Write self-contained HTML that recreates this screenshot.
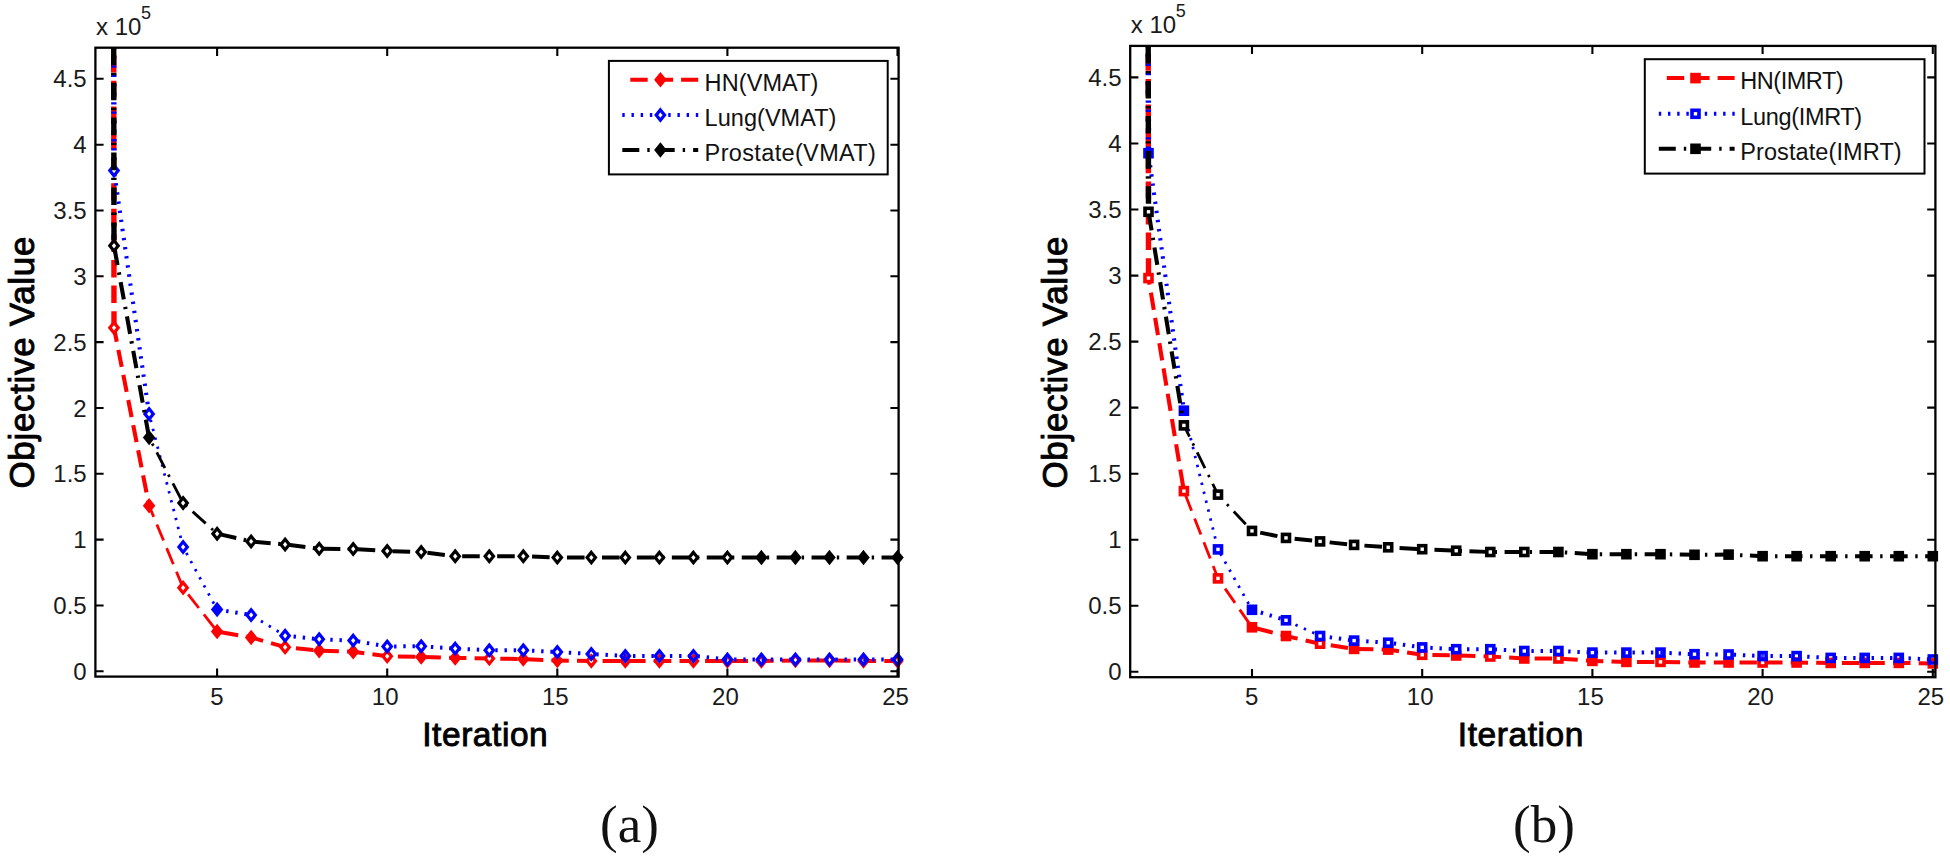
<!DOCTYPE html>
<html lang="en"><head><meta charset="utf-8"><title>Objective value vs iteration</title>
<style>html,body{margin:0;padding:0;background:#fff}body{width:1950px;height:859px;overflow:hidden}svg{display:block}</style>
</head><body>
<svg width="1950" height="859" viewBox="0 0 1950 859">
<rect width="1950" height="859" fill="#fff"/>
<g id="pa">
<clipPath id="clippa"><rect x="95.4" y="47.7" width="803.2" height="628.9"/></clipPath>
<g clip-path="url(#clippa)" fill="none">
<path d="M113.7 47.7L114.0 327.7" stroke="#ff0000" stroke-width="5.4" stroke-dasharray="17.4 8.2" stroke-dashoffset="18.1"/>
<path d="M114.0 327.7L149.1 505.7" stroke="#ff0000" stroke-width="4.1" stroke-dasharray="17.4 8.2" stroke-dashoffset="3.1"/>
<path d="M149.1 505.7L183.1 587.8" stroke="#ff0000" stroke-width="2.8" stroke-dasharray="17.4 8.2" stroke-dashoffset="5.3"/>
<path d="M183.1 587.8L217.1 631.5" stroke="#ff0000" stroke-width="2.8" stroke-dasharray="17.4 8.2" stroke-dashoffset="17.4"/>
<path d="M217.1 631.5L251.1 637.4" stroke="#ff0000" stroke-width="4.0" stroke-dasharray="17.4 8.2" stroke-dashoffset="21.6"/>
<path d="M251.1 637.4L285.1 647.2" stroke="#ff0000" stroke-width="4.0" stroke-dasharray="17.4 8.2" stroke-dashoffset="4.9"/>
<path d="M285.1 647.2L319.2 650.7" stroke="#ff0000" stroke-width="4.0" stroke-dasharray="17.4 8.2" stroke-dashoffset="14.7"/>
<path d="M319.2 650.7L353.2 651.7" stroke="#ff0000" stroke-width="4.0" stroke-dasharray="17.4 8.2" stroke-dashoffset="23.3"/>
<path d="M353.2 651.7L387.2 656.3" stroke="#ff0000" stroke-width="4.0" stroke-dasharray="17.4 8.2" stroke-dashoffset="6.2"/>
<path d="M387.2 656.3L421.2 656.9" stroke="#ff0000" stroke-width="4.0" stroke-dasharray="17.4 8.2" stroke-dashoffset="14.9"/>
<path d="M421.2 656.9L455.2 657.9" stroke="#ff0000" stroke-width="4.0" stroke-dasharray="17.4 8.2" stroke-dashoffset="23.3"/>
<path d="M455.2 657.9L489.3 658.5" stroke="#ff0000" stroke-width="4.0" stroke-dasharray="17.4 8.2" stroke-dashoffset="6.2"/>
<path d="M489.3 658.5L523.3 659.1" stroke="#ff0000" stroke-width="4.0" stroke-dasharray="17.4 8.2" stroke-dashoffset="14.6"/>
<path d="M523.3 659.1L557.3 660.5" stroke="#ff0000" stroke-width="4.0" stroke-dasharray="17.4 8.2" stroke-dashoffset="23.0"/>
<path d="M557.3 660.5L591.3 660.9" stroke="#ff0000" stroke-width="4.0" stroke-dasharray="17.4 8.2" stroke-dashoffset="5.9"/>
<path d="M591.3 660.9L625.3 660.9" stroke="#ff0000" stroke-width="4.0" stroke-dasharray="17.4 8.2" stroke-dashoffset="14.3"/>
<path d="M625.3 660.9L659.4 660.9" stroke="#ff0000" stroke-width="4.0" stroke-dasharray="17.4 8.2" stroke-dashoffset="22.7"/>
<path d="M659.4 660.9L693.4 660.9" stroke="#ff0000" stroke-width="4.0" stroke-dasharray="17.4 8.2" stroke-dashoffset="5.5"/>
<path d="M693.4 660.9L727.4 660.9" stroke="#ff0000" stroke-width="4.0" stroke-dasharray="17.4 8.2" stroke-dashoffset="13.9"/>
<path d="M727.4 660.9L761.4 660.9" stroke="#ff0000" stroke-width="4.0" stroke-dasharray="17.4 8.2" stroke-dashoffset="22.4"/>
<path d="M761.4 660.9L795.4 660.5" stroke="#ff0000" stroke-width="4.0" stroke-dasharray="17.4 8.2" stroke-dashoffset="5.2"/>
<path d="M795.4 660.5L829.5 660.5" stroke="#ff0000" stroke-width="4.0" stroke-dasharray="17.4 8.2" stroke-dashoffset="13.6"/>
<path d="M829.5 660.5L863.5 660.9" stroke="#ff0000" stroke-width="4.0" stroke-dasharray="17.4 8.2" stroke-dashoffset="22.0"/>
<path d="M863.5 660.9L897.5 660.9" stroke="#ff0000" stroke-width="4.0" stroke-dasharray="17.4 8.2" stroke-dashoffset="4.8"/>
</g>
<path d="M114.0 322.5L118.2 327.7L114.0 332.9L109.8 327.7Z" fill="#fff" stroke="#ff0000" stroke-width="3.2" stroke-linejoin="miter"/>
<path d="M149.1 500.5L153.3 505.7L149.1 510.9L144.9 505.7Z" fill="#ff0000" stroke="#ff0000" stroke-width="3.2" stroke-linejoin="miter"/>
<path d="M183.1 582.6L187.3 587.8L183.1 593.0L178.9 587.8Z" fill="#fff" stroke="#ff0000" stroke-width="3.2" stroke-linejoin="miter"/>
<path d="M217.1 626.3L221.3 631.5L217.1 636.7L212.9 631.5Z" fill="#ff0000" stroke="#ff0000" stroke-width="3.2" stroke-linejoin="miter"/>
<path d="M251.1 632.2L255.3 637.4L251.1 642.6L246.9 637.4Z" fill="#ff0000" stroke="#ff0000" stroke-width="3.2" stroke-linejoin="miter"/>
<path d="M285.1 642.0L289.3 647.2L285.1 652.4L280.9 647.2Z" fill="#fff" stroke="#ff0000" stroke-width="3.2" stroke-linejoin="miter"/>
<path d="M319.2 645.5L323.4 650.7L319.2 655.9L315.0 650.7Z" fill="#ff0000" stroke="#ff0000" stroke-width="3.2" stroke-linejoin="miter"/>
<path d="M353.2 646.5L357.4 651.7L353.2 656.9L349.0 651.7Z" fill="#ff0000" stroke="#ff0000" stroke-width="3.2" stroke-linejoin="miter"/>
<path d="M387.2 651.1L391.4 656.3L387.2 661.5L383.0 656.3Z" fill="#fff" stroke="#ff0000" stroke-width="3.2" stroke-linejoin="miter"/>
<path d="M421.2 651.7L425.4 656.9L421.2 662.1L417.0 656.9Z" fill="#ff0000" stroke="#ff0000" stroke-width="3.2" stroke-linejoin="miter"/>
<path d="M455.2 652.7L459.4 657.9L455.2 663.1L451.0 657.9Z" fill="#ff0000" stroke="#ff0000" stroke-width="3.2" stroke-linejoin="miter"/>
<path d="M489.3 653.3L493.5 658.5L489.3 663.7L485.1 658.5Z" fill="#fff" stroke="#ff0000" stroke-width="3.2" stroke-linejoin="miter"/>
<path d="M523.3 653.9L527.5 659.1L523.3 664.3L519.1 659.1Z" fill="#ff0000" stroke="#ff0000" stroke-width="3.2" stroke-linejoin="miter"/>
<path d="M557.3 655.3L561.5 660.5L557.3 665.7L553.1 660.5Z" fill="#ff0000" stroke="#ff0000" stroke-width="3.2" stroke-linejoin="miter"/>
<path d="M591.3 655.7L595.5 660.9L591.3 666.1L587.1 660.9Z" fill="#fff" stroke="#ff0000" stroke-width="3.2" stroke-linejoin="miter"/>
<path d="M625.3 655.7L629.5 660.9L625.3 666.1L621.1 660.9Z" fill="#fff" stroke="#ff0000" stroke-width="3.2" stroke-linejoin="miter"/>
<path d="M659.4 655.7L663.6 660.9L659.4 666.1L655.2 660.9Z" fill="#fff" stroke="#ff0000" stroke-width="3.2" stroke-linejoin="miter"/>
<path d="M693.4 655.7L697.6 660.9L693.4 666.1L689.2 660.9Z" fill="#fff" stroke="#ff0000" stroke-width="3.2" stroke-linejoin="miter"/>
<path d="M727.4 655.7L731.6 660.9L727.4 666.1L723.2 660.9Z" fill="#fff" stroke="#ff0000" stroke-width="3.2" stroke-linejoin="miter"/>
<path d="M761.4 655.7L765.6 660.9L761.4 666.1L757.2 660.9Z" fill="#fff" stroke="#ff0000" stroke-width="3.2" stroke-linejoin="miter"/>
<path d="M795.4 655.3L799.6 660.5L795.4 665.7L791.2 660.5Z" fill="#fff" stroke="#ff0000" stroke-width="3.2" stroke-linejoin="miter"/>
<path d="M829.5 655.3L833.7 660.5L829.5 665.7L825.3 660.5Z" fill="#fff" stroke="#ff0000" stroke-width="3.2" stroke-linejoin="miter"/>
<path d="M863.5 655.7L867.7 660.9L863.5 666.1L859.3 660.9Z" fill="#fff" stroke="#ff0000" stroke-width="3.2" stroke-linejoin="miter"/>
<path d="M897.5 655.7L901.7 660.9L897.5 666.1L893.3 660.9Z" fill="#fff" stroke="#ff0000" stroke-width="3.2" stroke-linejoin="miter"/>
<g clip-path="url(#clippa)" fill="none">
<path d="M113.7 47.7L114.0 170.6" stroke="#0000ff" stroke-width="5.4" stroke-dasharray="2.4 6.8" stroke-dashoffset="0.7"/>
<path d="M114.0 170.6L149.1 413.9" stroke="#0000ff" stroke-width="4.1" stroke-dasharray="2.4 6.8" stroke-dashoffset="5.6"/>
<path d="M149.1 413.9L183.1 547.0" stroke="#0000ff" stroke-width="2.8" stroke-dasharray="2.4 6.8" stroke-dashoffset="3.1"/>
<path d="M183.1 547.0L217.1 609.5" stroke="#0000ff" stroke-width="2.8" stroke-dasharray="2.4 6.8" stroke-dashoffset="2.4"/>
<path d="M217.1 609.5L251.1 615.0" stroke="#0000ff" stroke-width="4.0" stroke-dasharray="2.4 6.8" stroke-dashoffset="0.0"/>
<path d="M251.1 615.0L285.1 635.7" stroke="#0000ff" stroke-width="2.8" stroke-dasharray="2.4 6.8" stroke-dashoffset="6.9"/>
<path d="M285.1 635.7L319.2 639.2" stroke="#0000ff" stroke-width="4.0" stroke-dasharray="2.4 6.8" stroke-dashoffset="0.7"/>
<path d="M319.2 639.2L353.2 640.6" stroke="#0000ff" stroke-width="4.0" stroke-dasharray="2.4 6.8" stroke-dashoffset="7.3"/>
<path d="M353.2 640.6L387.2 646.5" stroke="#0000ff" stroke-width="4.0" stroke-dasharray="2.4 6.8" stroke-dashoffset="4.5"/>
<path d="M387.2 646.5L421.2 646.2" stroke="#0000ff" stroke-width="4.0" stroke-dasharray="2.4 6.8" stroke-dashoffset="2.3"/>
<path d="M421.2 646.2L455.2 648.6" stroke="#0000ff" stroke-width="4.0" stroke-dasharray="2.4 6.8" stroke-dashoffset="8.7"/>
<path d="M455.2 648.6L489.3 650.2" stroke="#0000ff" stroke-width="4.0" stroke-dasharray="2.4 6.8" stroke-dashoffset="6.0"/>
<path d="M489.3 650.2L523.3 650.2" stroke="#0000ff" stroke-width="4.0" stroke-dasharray="2.4 6.8" stroke-dashoffset="3.2"/>
<path d="M523.3 650.2L557.3 652.0" stroke="#0000ff" stroke-width="4.0" stroke-dasharray="2.4 6.8" stroke-dashoffset="0.5"/>
<path d="M557.3 652.0L591.3 654.0" stroke="#0000ff" stroke-width="4.0" stroke-dasharray="2.4 6.8" stroke-dashoffset="6.9"/>
<path d="M591.3 654.0L625.3 655.9" stroke="#0000ff" stroke-width="4.0" stroke-dasharray="2.4 6.8" stroke-dashoffset="4.2"/>
<path d="M625.3 655.9L659.4 655.9" stroke="#0000ff" stroke-width="4.0" stroke-dasharray="2.4 6.8" stroke-dashoffset="1.5"/>
<path d="M659.4 655.9L693.4 655.9" stroke="#0000ff" stroke-width="4.0" stroke-dasharray="2.4 6.8" stroke-dashoffset="7.9"/>
<path d="M693.4 655.9L727.4 659.5" stroke="#0000ff" stroke-width="4.0" stroke-dasharray="2.4 6.8" stroke-dashoffset="5.1"/>
<path d="M727.4 659.5L761.4 659.5" stroke="#0000ff" stroke-width="4.0" stroke-dasharray="2.4 6.8" stroke-dashoffset="2.5"/>
<path d="M761.4 659.5L795.4 659.5" stroke="#0000ff" stroke-width="4.0" stroke-dasharray="2.4 6.8" stroke-dashoffset="9.0"/>
<path d="M795.4 659.5L829.5 659.5" stroke="#0000ff" stroke-width="4.0" stroke-dasharray="2.4 6.8" stroke-dashoffset="6.2"/>
<path d="M829.5 659.5L863.5 659.5" stroke="#0000ff" stroke-width="4.0" stroke-dasharray="2.4 6.8" stroke-dashoffset="3.4"/>
<path d="M863.5 659.5L897.5 659.5" stroke="#0000ff" stroke-width="4.0" stroke-dasharray="2.4 6.8" stroke-dashoffset="0.6"/>
</g>
<path d="M114.0 165.4L118.2 170.6L114.0 175.8L109.8 170.6Z" fill="#fff" stroke="#0000ff" stroke-width="3.2" stroke-linejoin="miter"/>
<path d="M149.1 408.7L153.3 413.9L149.1 419.1L144.9 413.9Z" fill="#fff" stroke="#0000ff" stroke-width="3.2" stroke-linejoin="miter"/>
<path d="M183.1 541.8L187.3 547.0L183.1 552.2L178.9 547.0Z" fill="#fff" stroke="#0000ff" stroke-width="3.2" stroke-linejoin="miter"/>
<path d="M217.1 604.3L221.3 609.5L217.1 614.7L212.9 609.5Z" fill="#0000ff" stroke="#0000ff" stroke-width="3.2" stroke-linejoin="miter"/>
<path d="M251.1 609.8L255.3 615.0L251.1 620.2L246.9 615.0Z" fill="#fff" stroke="#0000ff" stroke-width="3.2" stroke-linejoin="miter"/>
<path d="M285.1 630.5L289.3 635.7L285.1 640.9L280.9 635.7Z" fill="#fff" stroke="#0000ff" stroke-width="3.2" stroke-linejoin="miter"/>
<path d="M319.2 634.0L323.4 639.2L319.2 644.4L315.0 639.2Z" fill="#fff" stroke="#0000ff" stroke-width="3.2" stroke-linejoin="miter"/>
<path d="M353.2 635.4L357.4 640.6L353.2 645.8L349.0 640.6Z" fill="#fff" stroke="#0000ff" stroke-width="3.2" stroke-linejoin="miter"/>
<path d="M387.2 641.3L391.4 646.5L387.2 651.7L383.0 646.5Z" fill="#fff" stroke="#0000ff" stroke-width="3.2" stroke-linejoin="miter"/>
<path d="M421.2 641.0L425.4 646.2L421.2 651.4L417.0 646.2Z" fill="#fff" stroke="#0000ff" stroke-width="3.2" stroke-linejoin="miter"/>
<path d="M455.2 643.4L459.4 648.6L455.2 653.8L451.0 648.6Z" fill="#fff" stroke="#0000ff" stroke-width="3.2" stroke-linejoin="miter"/>
<path d="M489.3 645.0L493.5 650.2L489.3 655.4L485.1 650.2Z" fill="#fff" stroke="#0000ff" stroke-width="3.2" stroke-linejoin="miter"/>
<path d="M523.3 645.0L527.5 650.2L523.3 655.4L519.1 650.2Z" fill="#fff" stroke="#0000ff" stroke-width="3.2" stroke-linejoin="miter"/>
<path d="M557.3 646.8L561.5 652.0L557.3 657.2L553.1 652.0Z" fill="#fff" stroke="#0000ff" stroke-width="3.2" stroke-linejoin="miter"/>
<path d="M591.3 648.8L595.5 654.0L591.3 659.2L587.1 654.0Z" fill="none" stroke="#0000ff" stroke-width="3.2" stroke-linejoin="miter"/>
<path d="M625.3 650.7L629.5 655.9L625.3 661.1L621.1 655.9Z" fill="none" stroke="#0000ff" stroke-width="3.2" stroke-linejoin="miter"/>
<path d="M659.4 650.7L663.6 655.9L659.4 661.1L655.2 655.9Z" fill="none" stroke="#0000ff" stroke-width="3.2" stroke-linejoin="miter"/>
<path d="M693.4 650.7L697.6 655.9L693.4 661.1L689.2 655.9Z" fill="none" stroke="#0000ff" stroke-width="3.2" stroke-linejoin="miter"/>
<path d="M727.4 654.3L731.6 659.5L727.4 664.7L723.2 659.5Z" fill="none" stroke="#0000ff" stroke-width="3.2" stroke-linejoin="miter"/>
<path d="M761.4 654.3L765.6 659.5L761.4 664.7L757.2 659.5Z" fill="none" stroke="#0000ff" stroke-width="3.2" stroke-linejoin="miter"/>
<path d="M795.4 654.3L799.6 659.5L795.4 664.7L791.2 659.5Z" fill="none" stroke="#0000ff" stroke-width="3.2" stroke-linejoin="miter"/>
<path d="M829.5 654.3L833.7 659.5L829.5 664.7L825.3 659.5Z" fill="none" stroke="#0000ff" stroke-width="3.2" stroke-linejoin="miter"/>
<path d="M863.5 654.3L867.7 659.5L863.5 664.7L859.3 659.5Z" fill="none" stroke="#0000ff" stroke-width="3.2" stroke-linejoin="miter"/>
<path d="M897.5 654.3L901.7 659.5L897.5 664.7L893.3 659.5Z" fill="none" stroke="#0000ff" stroke-width="3.2" stroke-linejoin="miter"/>
<g clip-path="url(#clippa)" fill="none">
<path d="M113.7 47.7L114.0 245.7" stroke="#000000" stroke-width="5.4" stroke-dasharray="17.6 7.5 2.4 7.45" stroke-dashoffset="0"/>
<path d="M114.0 245.7L149.1 437.6" stroke="#000000" stroke-width="4.1" stroke-dasharray="17.6 7.5 2.4 7.45" stroke-dashoffset="32.9"/>
<path d="M149.1 437.6L183.1 503.0" stroke="#000000" stroke-width="2.8" stroke-dasharray="17.6 7.5 2.4 7.45" stroke-dashoffset="18.3"/>
<path d="M183.1 503.0L217.1 533.7" stroke="#000000" stroke-width="2.8" stroke-dasharray="17.6 7.5 2.4 7.45" stroke-dashoffset="22.1"/>
<path d="M217.1 533.7L251.1 541.4" stroke="#000000" stroke-width="4.0" stroke-dasharray="17.6 7.5 2.4 7.45" stroke-dashoffset="32.9"/>
<path d="M251.1 541.4L285.1 544.5" stroke="#000000" stroke-width="4.0" stroke-dasharray="17.6 7.5 2.4 7.45" stroke-dashoffset="32.9"/>
<path d="M285.1 544.5L319.2 548.7" stroke="#000000" stroke-width="4.0" stroke-dasharray="17.6 7.5 2.4 7.45" stroke-dashoffset="32.1"/>
<path d="M319.2 548.7L353.2 549.0" stroke="#000000" stroke-width="4.0" stroke-dasharray="17.6 7.5 2.4 7.45" stroke-dashoffset="31.4"/>
<path d="M353.2 549.0L387.2 551.0" stroke="#000000" stroke-width="4.0" stroke-dasharray="17.6 7.5 2.4 7.45" stroke-dashoffset="30.5"/>
<path d="M387.2 551.0L421.2 552.0" stroke="#000000" stroke-width="4.0" stroke-dasharray="17.6 7.5 2.4 7.45" stroke-dashoffset="29.6"/>
<path d="M421.2 552.0L455.2 556.2" stroke="#000000" stroke-width="4.0" stroke-dasharray="17.6 7.5 2.4 7.45" stroke-dashoffset="28.7"/>
<path d="M455.2 556.2L489.3 556.2" stroke="#000000" stroke-width="4.0" stroke-dasharray="17.6 7.5 2.4 7.45" stroke-dashoffset="28.0"/>
<path d="M489.3 556.2L523.3 556.2" stroke="#000000" stroke-width="4.0" stroke-dasharray="17.6 7.5 2.4 7.45" stroke-dashoffset="27.1"/>
<path d="M523.3 556.2L557.3 557.6" stroke="#000000" stroke-width="4.0" stroke-dasharray="17.6 7.5 2.4 7.45" stroke-dashoffset="26.2"/>
<path d="M557.3 557.6L591.3 557.6" stroke="#000000" stroke-width="4.0" stroke-dasharray="17.6 7.5 2.4 7.45" stroke-dashoffset="25.3"/>
<path d="M591.3 557.6L625.3 557.6" stroke="#000000" stroke-width="4.0" stroke-dasharray="17.6 7.5 2.4 7.45" stroke-dashoffset="24.3"/>
<path d="M625.3 557.6L659.4 557.6" stroke="#000000" stroke-width="4.0" stroke-dasharray="17.6 7.5 2.4 7.45" stroke-dashoffset="23.4"/>
<path d="M659.4 557.6L693.4 557.6" stroke="#000000" stroke-width="4.0" stroke-dasharray="17.6 7.5 2.4 7.45" stroke-dashoffset="22.5"/>
<path d="M693.4 557.6L727.4 557.6" stroke="#000000" stroke-width="4.0" stroke-dasharray="17.6 7.5 2.4 7.45" stroke-dashoffset="21.6"/>
<path d="M727.4 557.6L761.4 557.6" stroke="#000000" stroke-width="4.0" stroke-dasharray="17.6 7.5 2.4 7.45" stroke-dashoffset="20.6"/>
<path d="M761.4 557.6L795.4 557.6" stroke="#000000" stroke-width="4.0" stroke-dasharray="17.6 7.5 2.4 7.45" stroke-dashoffset="19.7"/>
<path d="M795.4 557.6L829.5 557.6" stroke="#000000" stroke-width="4.0" stroke-dasharray="17.6 7.5 2.4 7.45" stroke-dashoffset="18.8"/>
<path d="M829.5 557.6L863.5 557.6" stroke="#000000" stroke-width="4.0" stroke-dasharray="17.6 7.5 2.4 7.45" stroke-dashoffset="17.8"/>
<path d="M863.5 557.6L897.5 557.6" stroke="#000000" stroke-width="4.0" stroke-dasharray="17.6 7.5 2.4 7.45" stroke-dashoffset="16.9"/>
</g>
<path d="M114.0 240.5L118.2 245.7L114.0 250.9L109.8 245.7Z" fill="#fff" stroke="#000000" stroke-width="3.2" stroke-linejoin="miter"/>
<path d="M149.1 432.4L153.3 437.6L149.1 442.8L144.9 437.6Z" fill="#000000" stroke="#000000" stroke-width="3.2" stroke-linejoin="miter"/>
<path d="M183.1 497.8L187.3 503.0L183.1 508.2L178.9 503.0Z" fill="#fff" stroke="#000000" stroke-width="3.2" stroke-linejoin="miter"/>
<path d="M217.1 528.5L221.3 533.7L217.1 538.9L212.9 533.7Z" fill="#fff" stroke="#000000" stroke-width="3.2" stroke-linejoin="miter"/>
<path d="M251.1 536.2L255.3 541.4L251.1 546.6L246.9 541.4Z" fill="#fff" stroke="#000000" stroke-width="3.2" stroke-linejoin="miter"/>
<path d="M285.1 539.3L289.3 544.5L285.1 549.7L280.9 544.5Z" fill="#fff" stroke="#000000" stroke-width="3.2" stroke-linejoin="miter"/>
<path d="M319.2 543.5L323.4 548.7L319.2 553.9L315.0 548.7Z" fill="#fff" stroke="#000000" stroke-width="3.2" stroke-linejoin="miter"/>
<path d="M353.2 543.8L357.4 549.0L353.2 554.2L349.0 549.0Z" fill="#fff" stroke="#000000" stroke-width="3.2" stroke-linejoin="miter"/>
<path d="M387.2 545.8L391.4 551.0L387.2 556.2L383.0 551.0Z" fill="#fff" stroke="#000000" stroke-width="3.2" stroke-linejoin="miter"/>
<path d="M421.2 546.8L425.4 552.0L421.2 557.2L417.0 552.0Z" fill="#fff" stroke="#000000" stroke-width="3.2" stroke-linejoin="miter"/>
<path d="M455.2 551.0L459.4 556.2L455.2 561.4L451.0 556.2Z" fill="#fff" stroke="#000000" stroke-width="3.2" stroke-linejoin="miter"/>
<path d="M489.3 551.0L493.5 556.2L489.3 561.4L485.1 556.2Z" fill="#fff" stroke="#000000" stroke-width="3.2" stroke-linejoin="miter"/>
<path d="M523.3 551.0L527.5 556.2L523.3 561.4L519.1 556.2Z" fill="#fff" stroke="#000000" stroke-width="3.2" stroke-linejoin="miter"/>
<path d="M557.3 552.4L561.5 557.6L557.3 562.8L553.1 557.6Z" fill="#fff" stroke="#000000" stroke-width="3.2" stroke-linejoin="miter"/>
<path d="M591.3 552.4L595.5 557.6L591.3 562.8L587.1 557.6Z" fill="#fff" stroke="#000000" stroke-width="3.2" stroke-linejoin="miter"/>
<path d="M625.3 552.4L629.5 557.6L625.3 562.8L621.1 557.6Z" fill="#fff" stroke="#000000" stroke-width="3.2" stroke-linejoin="miter"/>
<path d="M659.4 552.4L663.6 557.6L659.4 562.8L655.2 557.6Z" fill="#fff" stroke="#000000" stroke-width="3.2" stroke-linejoin="miter"/>
<path d="M693.4 552.4L697.6 557.6L693.4 562.8L689.2 557.6Z" fill="#fff" stroke="#000000" stroke-width="3.2" stroke-linejoin="miter"/>
<path d="M727.4 552.4L731.6 557.6L727.4 562.8L723.2 557.6Z" fill="#fff" stroke="#000000" stroke-width="3.2" stroke-linejoin="miter"/>
<path d="M761.4 552.4L765.6 557.6L761.4 562.8L757.2 557.6Z" fill="#000000" stroke="#000000" stroke-width="3.2" stroke-linejoin="miter"/>
<path d="M795.4 552.4L799.6 557.6L795.4 562.8L791.2 557.6Z" fill="#000000" stroke="#000000" stroke-width="3.2" stroke-linejoin="miter"/>
<path d="M829.5 552.4L833.7 557.6L829.5 562.8L825.3 557.6Z" fill="#000000" stroke="#000000" stroke-width="3.2" stroke-linejoin="miter"/>
<path d="M863.5 552.4L867.7 557.6L863.5 562.8L859.3 557.6Z" fill="#000000" stroke="#000000" stroke-width="3.2" stroke-linejoin="miter"/>
<path d="M897.5 552.4L901.7 557.6L897.5 562.8L893.3 557.6Z" fill="#000000" stroke="#000000" stroke-width="3.2" stroke-linejoin="miter"/>
<rect x="95.4" y="47.7" width="803.2" height="628.9" fill="none" stroke="#000" stroke-width="2.3"/>
<path d="M95.4 671.3h8.2M898.6 671.3h-8.2M95.4 605.5h8.2M898.6 605.5h-8.2M95.4 539.6h8.2M898.6 539.6h-8.2M95.4 473.8h8.2M898.6 473.8h-8.2M95.4 408.0h8.2M898.6 408.0h-8.2M95.4 342.1h8.2M898.6 342.1h-8.2M95.4 276.3h8.2M898.6 276.3h-8.2M95.4 210.5h8.2M898.6 210.5h-8.2M95.4 144.7h8.2M898.6 144.7h-8.2M95.4 78.8h8.2M898.6 78.8h-8.2M217.1 676.6v-8.2M217.1 47.7v8.2M387.2 676.6v-8.2M387.2 47.7v8.2M557.3 676.6v-8.2M557.3 47.7v8.2M727.4 676.6v-8.2M727.4 47.7v8.2M897.5 676.6v-8.2M897.5 47.7v8.2" stroke="#000" stroke-width="2.1" fill="none"/>
<g font-family='"Liberation Sans", Arial, Helvetica, sans-serif' font-size="24" fill="#1a1a1a">
<text x="86.7" y="679.8" text-anchor="end">0</text>
<text x="86.7" y="614.0" text-anchor="end">0.5</text>
<text x="86.7" y="548.1" text-anchor="end">1</text>
<text x="86.7" y="482.3" text-anchor="end">1.5</text>
<text x="86.7" y="416.5" text-anchor="end">2</text>
<text x="86.7" y="350.6" text-anchor="end">2.5</text>
<text x="86.7" y="284.8" text-anchor="end">3</text>
<text x="86.7" y="219.0" text-anchor="end">3.5</text>
<text x="86.7" y="153.2" text-anchor="end">4</text>
<text x="86.7" y="87.3" text-anchor="end">4.5</text>
<text x="216.9" y="705.2" text-anchor="middle">5</text>
<text x="385.2" y="705.2" text-anchor="middle">10</text>
<text x="555.3" y="705.2" text-anchor="middle">15</text>
<text x="725.4" y="705.2" text-anchor="middle">20</text>
<text x="895.5" y="705.2" text-anchor="middle">25</text>
<text x="96" y="35.2">x 10<tspan dy="-16" dx="-0.5" font-size="18">5</tspan></text>
</g>
<text x="485" y="746.4" text-anchor="middle" font-family='"Liberation Sans", Arial, Helvetica, sans-serif' font-size="33.5" fill="#000" stroke="#000" stroke-width="0.9" textLength="125.5" lengthAdjust="spacing">Iteration</text>
<text transform="translate(33.6 362.6) rotate(-90)" text-anchor="middle" font-family='"Liberation Sans", Arial, Helvetica, sans-serif' font-size="35" fill="#000" stroke="#000" stroke-width="0.9" textLength="252" lengthAdjust="spacing">Objective Value</text>
<rect x="608.9" y="60.9" width="278.80000000000007" height="113.5" fill="#fff" stroke="#000" stroke-width="2"/>
<path d="M630.3 79.8H698.2" stroke="#ff0000" stroke-width="4.0" stroke-dasharray="17.4 8" fill="none"/>
<path d="M660.4 74.6L664.6 79.8L660.4 85.0L656.2 79.8Z" fill="#ff0000" stroke="#ff0000" stroke-width="3.2" stroke-linejoin="miter"/>
<text x="704.6" y="90.6" font-family='"Liberation Sans", Arial, Helvetica, sans-serif' font-size="23.5" fill="#111" textLength="113.8" lengthAdjust="spacing">HN(VMAT)</text>
<path d="M622.3 115.1H698.4000000000001" stroke="#0000ff" stroke-width="4.0" stroke-dasharray="2.4 6.79" fill="none"/>
<path d="M660.4 109.9L664.6 115.1L660.4 120.3L656.2 115.1Z" fill="#fff" stroke="#0000ff" stroke-width="3.2" stroke-linejoin="miter"/>
<text x="704.6" y="125.5" font-family='"Liberation Sans", Arial, Helvetica, sans-serif' font-size="23.5" fill="#111" textLength="131.8" lengthAdjust="spacing">Lung(VMAT)</text>
<path d="M622.3 150.0H698.2" stroke="#000000" stroke-width="4.0" stroke-dasharray="17 8 2.4 8" fill="none"/>
<path d="M660.4 144.8L664.6 150.0L660.4 155.2L656.2 150.0Z" fill="#000000" stroke="#000000" stroke-width="3.2" stroke-linejoin="miter"/>
<text x="704.6" y="160.5" font-family='"Liberation Sans", Arial, Helvetica, sans-serif' font-size="23.5" fill="#111" textLength="171.3" lengthAdjust="spacing">Prostate(VMAT)</text>
</g>
<g id="pb">
<clipPath id="clippb"><rect x="1130.2" y="45.9" width="805.2" height="631.3000000000001"/></clipPath>
<g clip-path="url(#clippb)" fill="none">
<path d="M1148.2 45.9L1148.5 278.1" stroke="#ff0000" stroke-width="5.4" stroke-dasharray="17.4 8.2" stroke-dashoffset="18.1"/>
<path d="M1148.5 278.1L1183.9 491.1" stroke="#ff0000" stroke-width="4.1" stroke-dasharray="17.4 8.2" stroke-dashoffset="10.8"/>
<path d="M1183.9 491.1L1218.0 578.4" stroke="#ff0000" stroke-width="2.8" stroke-dasharray="17.4 8.2" stroke-dashoffset="21.9"/>
<path d="M1218.0 578.4L1252.0 627.3" stroke="#ff0000" stroke-width="2.8" stroke-dasharray="17.4 8.2" stroke-dashoffset="13.2"/>
<path d="M1252.0 627.3L1286.0 636.0" stroke="#ff0000" stroke-width="4.0" stroke-dasharray="17.4 8.2" stroke-dashoffset="21.6"/>
<path d="M1286.0 636.0L1320.1 643.7" stroke="#ff0000" stroke-width="4.0" stroke-dasharray="17.4 8.2" stroke-dashoffset="5.5"/>
<path d="M1320.1 643.7L1354.1 648.9" stroke="#ff0000" stroke-width="4.0" stroke-dasharray="17.4 8.2" stroke-dashoffset="14.8"/>
<path d="M1354.1 648.9L1388.2 649.6" stroke="#ff0000" stroke-width="4.0" stroke-dasharray="17.4 8.2" stroke-dashoffset="23.7"/>
<path d="M1388.2 649.6L1422.2 654.8" stroke="#ff0000" stroke-width="4.0" stroke-dasharray="17.4 8.2" stroke-dashoffset="6.5"/>
<path d="M1422.2 654.8L1456.2 655.5" stroke="#ff0000" stroke-width="4.0" stroke-dasharray="17.4 8.2" stroke-dashoffset="15.4"/>
<path d="M1456.2 655.5L1490.3 656.5" stroke="#ff0000" stroke-width="4.0" stroke-dasharray="17.4 8.2" stroke-dashoffset="23.8"/>
<path d="M1490.3 656.5L1524.3 658.5" stroke="#ff0000" stroke-width="4.0" stroke-dasharray="17.4 8.2" stroke-dashoffset="6.7"/>
<path d="M1524.3 658.5L1558.4 658.5" stroke="#ff0000" stroke-width="4.0" stroke-dasharray="17.4 8.2" stroke-dashoffset="15.2"/>
<path d="M1558.4 658.5L1592.4 660.9" stroke="#ff0000" stroke-width="4.0" stroke-dasharray="17.4 8.2" stroke-dashoffset="23.6"/>
<path d="M1592.4 660.9L1626.4 661.9" stroke="#ff0000" stroke-width="4.0" stroke-dasharray="17.4 8.2" stroke-dashoffset="6.5"/>
<path d="M1626.4 661.9L1660.5 661.9" stroke="#ff0000" stroke-width="4.0" stroke-dasharray="17.4 8.2" stroke-dashoffset="15.0"/>
<path d="M1660.5 661.9L1694.5 662.5" stroke="#ff0000" stroke-width="4.0" stroke-dasharray="17.4 8.2" stroke-dashoffset="23.4"/>
<path d="M1694.5 662.5L1728.6 662.5" stroke="#ff0000" stroke-width="4.0" stroke-dasharray="17.4 8.2" stroke-dashoffset="6.3"/>
<path d="M1728.6 662.5L1762.6 662.5" stroke="#ff0000" stroke-width="4.0" stroke-dasharray="17.4 8.2" stroke-dashoffset="14.7"/>
<path d="M1762.6 662.5L1796.6 662.5" stroke="#ff0000" stroke-width="4.0" stroke-dasharray="17.4 8.2" stroke-dashoffset="23.1"/>
<path d="M1796.6 662.5L1830.7 662.9" stroke="#ff0000" stroke-width="4.0" stroke-dasharray="17.4 8.2" stroke-dashoffset="6.0"/>
<path d="M1830.7 662.9L1864.7 662.9" stroke="#ff0000" stroke-width="4.0" stroke-dasharray="17.4 8.2" stroke-dashoffset="14.4"/>
<path d="M1864.7 662.9L1898.8 662.9" stroke="#ff0000" stroke-width="4.0" stroke-dasharray="17.4 8.2" stroke-dashoffset="22.9"/>
<path d="M1898.8 662.9L1932.8 663.4" stroke="#ff0000" stroke-width="4.0" stroke-dasharray="17.4 8.2" stroke-dashoffset="5.7"/>
</g>
<rect x="1145.0" y="274.6" width="7.0" height="7.0" fill="#fff" stroke="#ff0000" stroke-width="3.6"/>
<rect x="1180.4" y="487.6" width="7.0" height="7.0" fill="#fff" stroke="#ff0000" stroke-width="3.6"/>
<rect x="1214.5" y="574.9" width="7.0" height="7.0" fill="#fff" stroke="#ff0000" stroke-width="3.6"/>
<rect x="1248.5" y="623.8" width="7.0" height="7.0" fill="#ff0000" stroke="#ff0000" stroke-width="3.6"/>
<rect x="1282.5" y="632.5" width="7.0" height="7.0" fill="#ff0000" stroke="#ff0000" stroke-width="3.6"/>
<rect x="1316.6" y="640.2" width="7.0" height="7.0" fill="#fff" stroke="#ff0000" stroke-width="3.6"/>
<rect x="1350.6" y="645.4" width="7.0" height="7.0" fill="#ff0000" stroke="#ff0000" stroke-width="3.6"/>
<rect x="1384.7" y="646.1" width="7.0" height="7.0" fill="#ff0000" stroke="#ff0000" stroke-width="3.6"/>
<rect x="1418.7" y="651.3" width="7.0" height="7.0" fill="#fff" stroke="#ff0000" stroke-width="3.6"/>
<rect x="1452.7" y="652.0" width="7.0" height="7.0" fill="#ff0000" stroke="#ff0000" stroke-width="3.6"/>
<rect x="1486.8" y="653.0" width="7.0" height="7.0" fill="#fff" stroke="#ff0000" stroke-width="3.6"/>
<rect x="1520.8" y="655.0" width="7.0" height="7.0" fill="#ff0000" stroke="#ff0000" stroke-width="3.6"/>
<rect x="1554.9" y="655.0" width="7.0" height="7.0" fill="#fff" stroke="#ff0000" stroke-width="3.6"/>
<rect x="1588.9" y="657.4" width="7.0" height="7.0" fill="#ff0000" stroke="#ff0000" stroke-width="3.6"/>
<rect x="1622.9" y="658.4" width="7.0" height="7.0" fill="#ff0000" stroke="#ff0000" stroke-width="3.6"/>
<rect x="1657.0" y="658.4" width="7.0" height="7.0" fill="#fff" stroke="#ff0000" stroke-width="3.6"/>
<rect x="1691.0" y="659.0" width="7.0" height="7.0" fill="#ff0000" stroke="#ff0000" stroke-width="3.6"/>
<rect x="1725.1" y="659.0" width="7.0" height="7.0" fill="#ff0000" stroke="#ff0000" stroke-width="3.6"/>
<rect x="1759.1" y="659.0" width="7.0" height="7.0" fill="#fff" stroke="#ff0000" stroke-width="3.6"/>
<rect x="1793.1" y="659.0" width="7.0" height="7.0" fill="#ff0000" stroke="#ff0000" stroke-width="3.6"/>
<rect x="1827.2" y="659.4" width="7.0" height="7.0" fill="#ff0000" stroke="#ff0000" stroke-width="3.6"/>
<rect x="1861.2" y="659.4" width="7.0" height="7.0" fill="#ff0000" stroke="#ff0000" stroke-width="3.6"/>
<rect x="1895.3" y="659.4" width="7.0" height="7.0" fill="#ff0000" stroke="#ff0000" stroke-width="3.6"/>
<rect x="1929.3" y="659.9" width="7.0" height="7.0" fill="#fff" stroke="#ff0000" stroke-width="3.6"/>
<g clip-path="url(#clippb)" fill="none">
<path d="M1148.2 45.9L1148.5 153.2" stroke="#0000ff" stroke-width="5.4" stroke-dasharray="2.4 6.8" stroke-dashoffset="0.7"/>
<path d="M1148.5 153.2L1183.9 410.7" stroke="#0000ff" stroke-width="4.1" stroke-dasharray="2.4 6.8" stroke-dashoffset="6.3"/>
<path d="M1183.9 410.7L1218.0 549.4" stroke="#0000ff" stroke-width="2.8" stroke-dasharray="2.4 6.8" stroke-dashoffset="8.7"/>
<path d="M1218.0 549.4L1252.0 609.8" stroke="#0000ff" stroke-width="2.8" stroke-dasharray="2.4 6.8" stroke-dashoffset="4.3"/>
<path d="M1252.0 609.8L1286.0 620.3" stroke="#0000ff" stroke-width="4.0" stroke-dasharray="2.4 6.8" stroke-dashoffset="0.0"/>
<path d="M1286.0 620.3L1320.1 636.0" stroke="#0000ff" stroke-width="2.8" stroke-dasharray="2.4 6.8" stroke-dashoffset="8.0"/>
<path d="M1320.1 636.0L1354.1 640.6" stroke="#0000ff" stroke-width="4.0" stroke-dasharray="2.4 6.8" stroke-dashoffset="8.7"/>
<path d="M1354.1 640.6L1388.2 642.7" stroke="#0000ff" stroke-width="4.0" stroke-dasharray="2.4 6.8" stroke-dashoffset="6.3"/>
<path d="M1388.2 642.7L1422.2 647.4" stroke="#0000ff" stroke-width="4.0" stroke-dasharray="2.4 6.8" stroke-dashoffset="3.6"/>
<path d="M1422.2 647.4L1456.2 649.2" stroke="#0000ff" stroke-width="4.0" stroke-dasharray="2.4 6.8" stroke-dashoffset="1.1"/>
<path d="M1456.2 649.2L1490.3 649.2" stroke="#0000ff" stroke-width="4.0" stroke-dasharray="2.4 6.8" stroke-dashoffset="7.6"/>
<path d="M1490.3 649.2L1524.3 651.0" stroke="#0000ff" stroke-width="4.0" stroke-dasharray="2.4 6.8" stroke-dashoffset="4.9"/>
<path d="M1524.3 651.0L1558.4 651.0" stroke="#0000ff" stroke-width="4.0" stroke-dasharray="2.4 6.8" stroke-dashoffset="2.1"/>
<path d="M1558.4 651.0L1592.4 652.6" stroke="#0000ff" stroke-width="4.0" stroke-dasharray="2.4 6.8" stroke-dashoffset="8.6"/>
<path d="M1592.4 652.6L1626.4 652.6" stroke="#0000ff" stroke-width="4.0" stroke-dasharray="2.4 6.8" stroke-dashoffset="5.9"/>
<path d="M1626.4 652.6L1660.5 652.6" stroke="#0000ff" stroke-width="4.0" stroke-dasharray="2.4 6.8" stroke-dashoffset="3.1"/>
<path d="M1660.5 652.6L1694.5 654.2" stroke="#0000ff" stroke-width="4.0" stroke-dasharray="2.4 6.8" stroke-dashoffset="0.3"/>
<path d="M1694.5 654.2L1728.6 654.5" stroke="#0000ff" stroke-width="4.0" stroke-dasharray="2.4 6.8" stroke-dashoffset="6.8"/>
<path d="M1728.6 654.5L1762.6 656.1" stroke="#0000ff" stroke-width="4.0" stroke-dasharray="2.4 6.8" stroke-dashoffset="4.1"/>
<path d="M1762.6 656.1L1796.6 656.1" stroke="#0000ff" stroke-width="4.0" stroke-dasharray="2.4 6.8" stroke-dashoffset="1.3"/>
<path d="M1796.6 656.1L1830.7 657.9" stroke="#0000ff" stroke-width="4.0" stroke-dasharray="2.4 6.8" stroke-dashoffset="7.8"/>
<path d="M1830.7 657.9L1864.7 657.9" stroke="#0000ff" stroke-width="4.0" stroke-dasharray="2.4 6.8" stroke-dashoffset="5.1"/>
<path d="M1864.7 657.9L1898.8 657.9" stroke="#0000ff" stroke-width="4.0" stroke-dasharray="2.4 6.8" stroke-dashoffset="2.3"/>
<path d="M1898.8 657.9L1932.8 659.5" stroke="#0000ff" stroke-width="4.0" stroke-dasharray="2.4 6.8" stroke-dashoffset="8.7"/>
</g>
<rect x="1145.0" y="149.7" width="7.0" height="7.0" fill="#fff" stroke="#0000ff" stroke-width="3.6"/>
<rect x="1180.4" y="407.2" width="7.0" height="7.0" fill="#0000ff" stroke="#0000ff" stroke-width="3.6"/>
<rect x="1214.5" y="545.9" width="7.0" height="7.0" fill="#fff" stroke="#0000ff" stroke-width="3.6"/>
<rect x="1248.5" y="606.3" width="7.0" height="7.0" fill="#0000ff" stroke="#0000ff" stroke-width="3.6"/>
<rect x="1282.5" y="616.8" width="7.0" height="7.0" fill="#fff" stroke="#0000ff" stroke-width="3.6"/>
<rect x="1316.6" y="632.5" width="7.0" height="7.0" fill="#fff" stroke="#0000ff" stroke-width="3.6"/>
<rect x="1350.6" y="637.1" width="7.0" height="7.0" fill="#fff" stroke="#0000ff" stroke-width="3.6"/>
<rect x="1384.7" y="639.2" width="7.0" height="7.0" fill="#fff" stroke="#0000ff" stroke-width="3.6"/>
<rect x="1418.7" y="643.9" width="7.0" height="7.0" fill="#fff" stroke="#0000ff" stroke-width="3.6"/>
<rect x="1452.7" y="645.7" width="7.0" height="7.0" fill="#fff" stroke="#0000ff" stroke-width="3.6"/>
<rect x="1486.8" y="645.7" width="7.0" height="7.0" fill="#fff" stroke="#0000ff" stroke-width="3.6"/>
<rect x="1520.8" y="647.5" width="7.0" height="7.0" fill="#fff" stroke="#0000ff" stroke-width="3.6"/>
<rect x="1554.9" y="647.5" width="7.0" height="7.0" fill="#fff" stroke="#0000ff" stroke-width="3.6"/>
<rect x="1588.9" y="649.1" width="7.0" height="7.0" fill="#fff" stroke="#0000ff" stroke-width="3.6"/>
<rect x="1622.9" y="649.1" width="7.0" height="7.0" fill="none" stroke="#0000ff" stroke-width="3.6"/>
<rect x="1657.0" y="649.1" width="7.0" height="7.0" fill="none" stroke="#0000ff" stroke-width="3.6"/>
<rect x="1691.0" y="650.7" width="7.0" height="7.0" fill="none" stroke="#0000ff" stroke-width="3.6"/>
<rect x="1725.1" y="651.0" width="7.0" height="7.0" fill="none" stroke="#0000ff" stroke-width="3.6"/>
<rect x="1759.1" y="652.6" width="7.0" height="7.0" fill="none" stroke="#0000ff" stroke-width="3.6"/>
<rect x="1793.1" y="652.6" width="7.0" height="7.0" fill="none" stroke="#0000ff" stroke-width="3.6"/>
<rect x="1827.2" y="654.4" width="7.0" height="7.0" fill="none" stroke="#0000ff" stroke-width="3.6"/>
<rect x="1861.2" y="654.4" width="7.0" height="7.0" fill="none" stroke="#0000ff" stroke-width="3.6"/>
<rect x="1895.3" y="654.4" width="7.0" height="7.0" fill="none" stroke="#0000ff" stroke-width="3.6"/>
<rect x="1929.3" y="656.0" width="7.0" height="7.0" fill="none" stroke="#0000ff" stroke-width="3.6"/>
<g clip-path="url(#clippb)" fill="none">
<path d="M1148.2 45.9L1148.5 211.8" stroke="#000000" stroke-width="5.4" stroke-dasharray="17.6 7.55 2.4 7.51" stroke-dashoffset="0"/>
<path d="M1148.5 211.8L1183.9 425.4" stroke="#000000" stroke-width="4.1" stroke-dasharray="17.6 7.55 2.4 7.51" stroke-dashoffset="33.9"/>
<path d="M1183.9 425.4L1218.0 494.6" stroke="#000000" stroke-width="2.8" stroke-dasharray="17.6 7.55 2.4 7.51" stroke-dashoffset="5.0"/>
<path d="M1218.0 494.6L1252.0 530.9" stroke="#000000" stroke-width="2.8" stroke-dasharray="17.6 7.55 2.4 7.51" stroke-dashoffset="12.0"/>
<path d="M1252.0 530.9L1286.0 537.9" stroke="#000000" stroke-width="4.0" stroke-dasharray="17.6 7.55 2.4 7.51" stroke-dashoffset="26.7"/>
<path d="M1286.0 537.9L1320.1 541.4" stroke="#000000" stroke-width="4.0" stroke-dasharray="17.6 7.55 2.4 7.51" stroke-dashoffset="26.4"/>
<path d="M1320.1 541.4L1354.1 544.9" stroke="#000000" stroke-width="4.0" stroke-dasharray="17.6 7.55 2.4 7.51" stroke-dashoffset="25.5"/>
<path d="M1354.1 544.9L1388.2 547.3" stroke="#000000" stroke-width="4.0" stroke-dasharray="17.6 7.55 2.4 7.51" stroke-dashoffset="24.7"/>
<path d="M1388.2 547.3L1422.2 549.2" stroke="#000000" stroke-width="4.0" stroke-dasharray="17.6 7.55 2.4 7.51" stroke-dashoffset="23.7"/>
<path d="M1422.2 549.2L1456.2 550.7" stroke="#000000" stroke-width="4.0" stroke-dasharray="17.6 7.55 2.4 7.51" stroke-dashoffset="22.8"/>
<path d="M1456.2 550.7L1490.3 552.0" stroke="#000000" stroke-width="4.0" stroke-dasharray="17.6 7.55 2.4 7.51" stroke-dashoffset="21.8"/>
<path d="M1490.3 552.0L1524.3 552.0" stroke="#000000" stroke-width="4.0" stroke-dasharray="17.6 7.55 2.4 7.51" stroke-dashoffset="20.8"/>
<path d="M1524.3 552.0L1558.4 552.0" stroke="#000000" stroke-width="4.0" stroke-dasharray="17.6 7.55 2.4 7.51" stroke-dashoffset="19.8"/>
<path d="M1558.4 552.0L1592.4 554.2" stroke="#000000" stroke-width="4.0" stroke-dasharray="17.6 7.55 2.4 7.51" stroke-dashoffset="18.7"/>
<path d="M1592.4 554.2L1626.4 554.2" stroke="#000000" stroke-width="4.0" stroke-dasharray="17.6 7.55 2.4 7.51" stroke-dashoffset="17.8"/>
<path d="M1626.4 554.2L1660.5 554.2" stroke="#000000" stroke-width="4.0" stroke-dasharray="17.6 7.55 2.4 7.51" stroke-dashoffset="16.8"/>
<path d="M1660.5 554.2L1694.5 554.8" stroke="#000000" stroke-width="4.0" stroke-dasharray="17.6 7.55 2.4 7.51" stroke-dashoffset="15.8"/>
<path d="M1694.5 554.8L1728.6 554.6" stroke="#000000" stroke-width="4.0" stroke-dasharray="17.6 7.55 2.4 7.51" stroke-dashoffset="14.7"/>
<path d="M1728.6 554.6L1762.6 556.2" stroke="#000000" stroke-width="4.0" stroke-dasharray="17.6 7.55 2.4 7.51" stroke-dashoffset="13.7"/>
<path d="M1762.6 556.2L1796.6 556.2" stroke="#000000" stroke-width="4.0" stroke-dasharray="17.6 7.55 2.4 7.51" stroke-dashoffset="12.7"/>
<path d="M1796.6 556.2L1830.7 556.2" stroke="#000000" stroke-width="4.0" stroke-dasharray="17.6 7.55 2.4 7.51" stroke-dashoffset="11.7"/>
<path d="M1830.7 556.2L1864.7 556.2" stroke="#000000" stroke-width="4.0" stroke-dasharray="17.6 7.55 2.4 7.51" stroke-dashoffset="10.7"/>
<path d="M1864.7 556.2L1898.8 556.2" stroke="#000000" stroke-width="4.0" stroke-dasharray="17.6 7.55 2.4 7.51" stroke-dashoffset="9.7"/>
<path d="M1898.8 556.2L1932.8 556.2" stroke="#000000" stroke-width="4.0" stroke-dasharray="17.6 7.55 2.4 7.51" stroke-dashoffset="8.7"/>
</g>
<rect x="1145.0" y="208.3" width="7.0" height="7.0" fill="#fff" stroke="#000000" stroke-width="3.6"/>
<rect x="1180.4" y="421.9" width="7.0" height="7.0" fill="#fff" stroke="#000000" stroke-width="3.6"/>
<rect x="1214.5" y="491.1" width="7.0" height="7.0" fill="#fff" stroke="#000000" stroke-width="3.6"/>
<rect x="1248.5" y="527.4" width="7.0" height="7.0" fill="#fff" stroke="#000000" stroke-width="3.6"/>
<rect x="1282.5" y="534.4" width="7.0" height="7.0" fill="#fff" stroke="#000000" stroke-width="3.6"/>
<rect x="1316.6" y="537.9" width="7.0" height="7.0" fill="#fff" stroke="#000000" stroke-width="3.6"/>
<rect x="1350.6" y="541.4" width="7.0" height="7.0" fill="#fff" stroke="#000000" stroke-width="3.6"/>
<rect x="1384.7" y="543.8" width="7.0" height="7.0" fill="#fff" stroke="#000000" stroke-width="3.6"/>
<rect x="1418.7" y="545.7" width="7.0" height="7.0" fill="#fff" stroke="#000000" stroke-width="3.6"/>
<rect x="1452.7" y="547.2" width="7.0" height="7.0" fill="#fff" stroke="#000000" stroke-width="3.6"/>
<rect x="1486.8" y="548.5" width="7.0" height="7.0" fill="#fff" stroke="#000000" stroke-width="3.6"/>
<rect x="1520.8" y="548.5" width="7.0" height="7.0" fill="#fff" stroke="#000000" stroke-width="3.6"/>
<rect x="1554.9" y="548.5" width="7.0" height="7.0" fill="#000000" stroke="#000000" stroke-width="3.6"/>
<rect x="1588.9" y="550.7" width="7.0" height="7.0" fill="#000000" stroke="#000000" stroke-width="3.6"/>
<rect x="1622.9" y="550.7" width="7.0" height="7.0" fill="#000000" stroke="#000000" stroke-width="3.6"/>
<rect x="1657.0" y="550.7" width="7.0" height="7.0" fill="#000000" stroke="#000000" stroke-width="3.6"/>
<rect x="1691.0" y="551.3" width="7.0" height="7.0" fill="#000000" stroke="#000000" stroke-width="3.6"/>
<rect x="1725.1" y="551.1" width="7.0" height="7.0" fill="#000000" stroke="#000000" stroke-width="3.6"/>
<rect x="1759.1" y="552.7" width="7.0" height="7.0" fill="#000000" stroke="#000000" stroke-width="3.6"/>
<rect x="1793.1" y="552.7" width="7.0" height="7.0" fill="#000000" stroke="#000000" stroke-width="3.6"/>
<rect x="1827.2" y="552.7" width="7.0" height="7.0" fill="#000000" stroke="#000000" stroke-width="3.6"/>
<rect x="1861.2" y="552.7" width="7.0" height="7.0" fill="#000000" stroke="#000000" stroke-width="3.6"/>
<rect x="1895.3" y="552.7" width="7.0" height="7.0" fill="#000000" stroke="#000000" stroke-width="3.6"/>
<rect x="1929.3" y="552.7" width="7.0" height="7.0" fill="#000000" stroke="#000000" stroke-width="3.6"/>
<rect x="1130.2" y="45.9" width="805.2" height="631.3000000000001" fill="none" stroke="#000" stroke-width="2.3"/>
<path d="M1130.2 671.8h8.2M1935.4 671.8h-8.2M1130.2 605.8h8.2M1935.4 605.8h-8.2M1130.2 539.7h8.2M1935.4 539.7h-8.2M1130.2 473.7h8.2M1935.4 473.7h-8.2M1130.2 407.6h8.2M1935.4 407.6h-8.2M1130.2 341.6h8.2M1935.4 341.6h-8.2M1130.2 275.6h8.2M1935.4 275.6h-8.2M1130.2 209.5h8.2M1935.4 209.5h-8.2M1130.2 143.5h8.2M1935.4 143.5h-8.2M1130.2 77.4h8.2M1935.4 77.4h-8.2M1252.0 677.2v-8.2M1252.0 45.9v8.2M1422.2 677.2v-8.2M1422.2 45.9v8.2M1592.4 677.2v-8.2M1592.4 45.9v8.2M1762.6 677.2v-8.2M1762.6 45.9v8.2M1932.8 677.2v-8.2M1932.8 45.9v8.2" stroke="#000" stroke-width="2.1" fill="none"/>
<g font-family='"Liberation Sans", Arial, Helvetica, sans-serif' font-size="24" fill="#1a1a1a">
<text x="1121.5" y="680.3" text-anchor="end">0</text>
<text x="1121.5" y="614.3" text-anchor="end">0.5</text>
<text x="1121.5" y="548.2" text-anchor="end">1</text>
<text x="1121.5" y="482.2" text-anchor="end">1.5</text>
<text x="1121.5" y="416.1" text-anchor="end">2</text>
<text x="1121.5" y="350.1" text-anchor="end">2.5</text>
<text x="1121.5" y="284.1" text-anchor="end">3</text>
<text x="1121.5" y="218.0" text-anchor="end">3.5</text>
<text x="1121.5" y="152.0" text-anchor="end">4</text>
<text x="1121.5" y="85.9" text-anchor="end">4.5</text>
<text x="1251.8" y="705.2" text-anchor="middle">5</text>
<text x="1420.2" y="705.2" text-anchor="middle">10</text>
<text x="1590.4" y="705.2" text-anchor="middle">15</text>
<text x="1760.6" y="705.2" text-anchor="middle">20</text>
<text x="1930.8" y="705.2" text-anchor="middle">25</text>
<text x="1130.8" y="33.0">x 10<tspan dy="-16" dx="-0.5" font-size="18">5</tspan></text>
</g>
<text x="1520.6" y="746.4" text-anchor="middle" font-family='"Liberation Sans", Arial, Helvetica, sans-serif' font-size="33.5" fill="#000" stroke="#000" stroke-width="0.9" textLength="125.5" lengthAdjust="spacing">Iteration</text>
<text transform="translate(1067.0 362.6) rotate(-90)" text-anchor="middle" font-family='"Liberation Sans", Arial, Helvetica, sans-serif' font-size="35" fill="#000" stroke="#000" stroke-width="0.9" textLength="252" lengthAdjust="spacing">Objective Value</text>
<rect x="1644.8" y="59.2" width="279.70000000000005" height="114.39999999999999" fill="#fff" stroke="#000" stroke-width="2"/>
<path d="M1666.8 78.1H1734.6" stroke="#ff0000" stroke-width="4.0" stroke-dasharray="17.4 8" fill="none"/>
<rect x="1692.0" y="74.6" width="7.0" height="7.0" fill="#ff0000" stroke="#ff0000" stroke-width="3.6"/>
<text x="1740.2" y="89.2" font-family='"Liberation Sans", Arial, Helvetica, sans-serif' font-size="23.5" fill="#111" textLength="103.5" lengthAdjust="spacing">HN(IMRT)</text>
<path d="M1658.8 113.8H1734.8" stroke="#0000ff" stroke-width="4.0" stroke-dasharray="2.4 6.79" fill="none"/>
<rect x="1692.0" y="110.3" width="7.0" height="7.0" fill="#fff" stroke="#0000ff" stroke-width="3.6"/>
<text x="1740.2" y="124.7" font-family='"Liberation Sans", Arial, Helvetica, sans-serif' font-size="23.5" fill="#111" textLength="122.0" lengthAdjust="spacing">Lung(IMRT)</text>
<path d="M1658.8 148.8H1734.6" stroke="#000000" stroke-width="4.0" stroke-dasharray="17 8 2.4 8" fill="none"/>
<rect x="1692.0" y="145.3" width="7.0" height="7.0" fill="#000000" stroke="#000000" stroke-width="3.6"/>
<text x="1740.2" y="159.6" font-family='"Liberation Sans", Arial, Helvetica, sans-serif' font-size="23.5" fill="#111" textLength="161.5" lengthAdjust="spacing">Prostate(IMRT)</text>
</g>
<text x="629.5" y="842" text-anchor="middle" font-family='"Liberation Serif", "Times New Roman", serif' font-size="53" fill="#111">(a)</text>
<text x="1544" y="842" text-anchor="middle" font-family='"Liberation Serif", "Times New Roman", serif' font-size="53" fill="#111">(b)</text>
</svg></body></html>
